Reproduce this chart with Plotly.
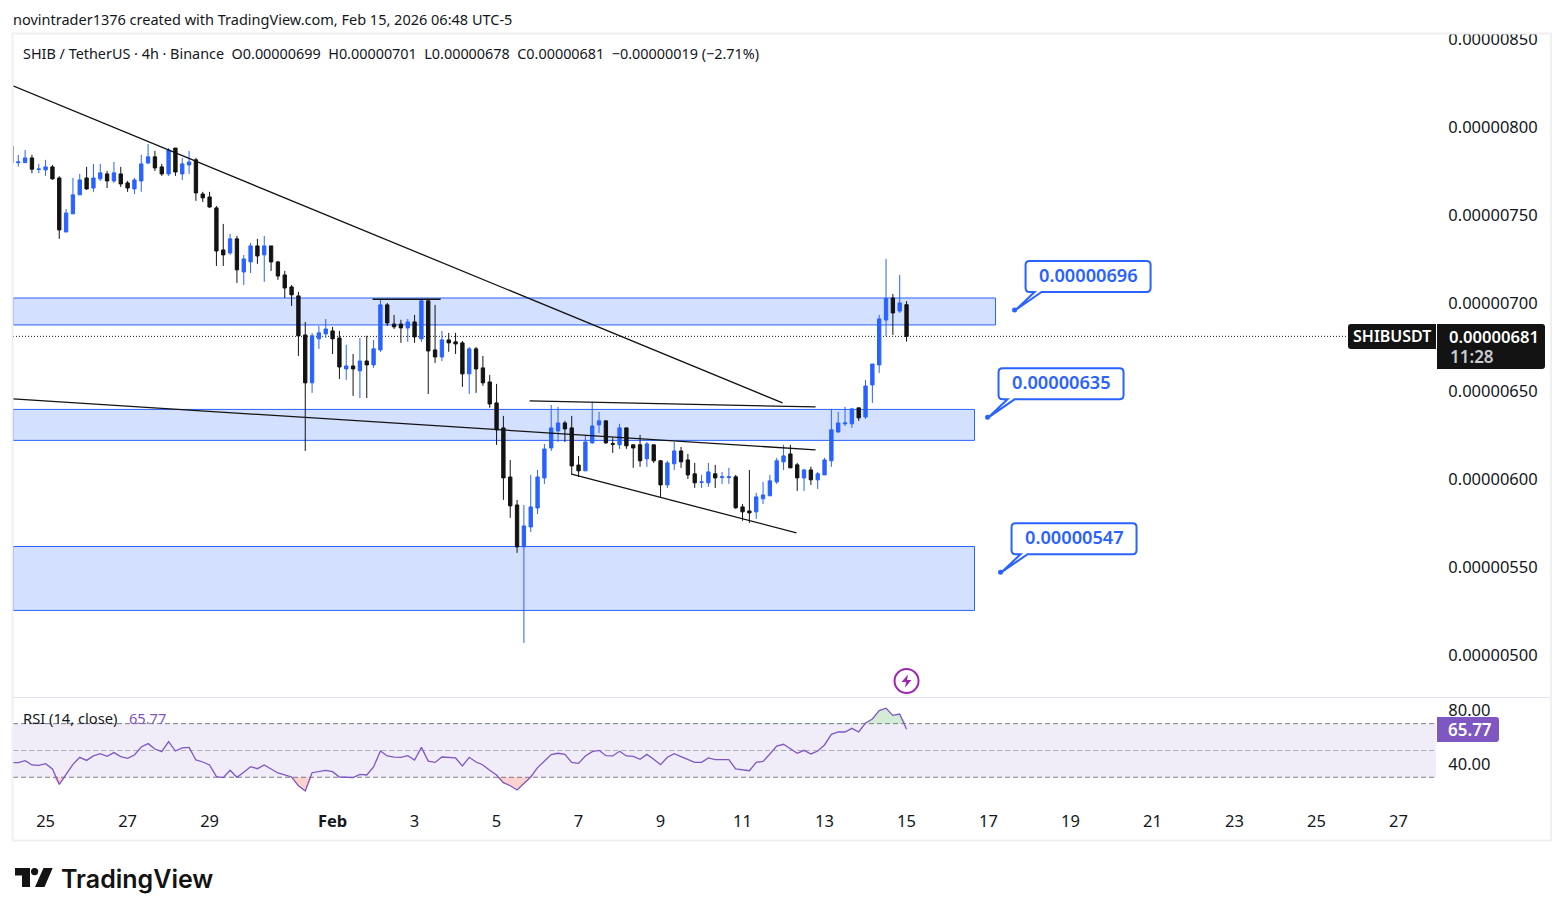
import pandas as pd
import numpy as np
import plotly.graph_objects as go

W, H = 1564, 916

# OHLC per 4h bar, in units of 1e-8 USDT
opens = [789.2,779.7,779.7,782.4,775.8,775.6,777.3,771,740.3,750.6,761.4,771,765.3,770.5,773.3,769.3,773.3,768.2,764.8,769.3,
 779.5,783,777.3,773.3,788,773.3,778.4,781.3,761.9,760.2,754,730.1,728.4,736.4,717.6,723.3,732.4,727.3,732.4,723.3,
 715.9,709.1,704,681.8,654.6,679.6,682.4,684.1,680.1,662.5,664.2,661.4,667,664.8,673.3,698.9,688,688,685.8,689.2,
 679.6,701.2,673.3,669.3,679,677.9,677.3,659.7,673.9,663.1,655.1,643.2,629,601.1,585.2,561.4,572.7,583.5,600.6,617.6,
 627.3,631.8,629,607.9,604.6,620.5,630.7,633,620.1,619.4,629,619.4,619.4,611.4,619.4,610.3,596.6,608.6,615.9,610.8,
 602.9,598,597.8,602.9,600.8,600.8,601.2,584.1,581.8,581.3,588.7,590.4,598.3,609.7,614.2,608,600.6,605.1,599.5,602.3,
 610.3,626.7,631.3,631.3,640.4,635.2,653.4,664.8,690.3,702.8,695.4,699]
highs = [789.2,784.1,786.9,784.1,779,781.3,778.4,772,753.4,771,773.3,777.3,779,779,775,780.1,777.3,769.3,771,784.1,
 790.3,786.4,779,788,788,782.4,786.4,782.4,763.1,763.1,755.1,744.9,739.2,738.1,727.3,734.1,736.4,738.1,732.4,723.9,
 718.2,710.2,706.3,689.2,683,686.9,690.9,686.4,684.1,676.2,671,680.1,681.3,679,702.3,700,693.2,690.4,690.9,693.2,
 702.3,701.2,698.9,684.1,683,683,678.4,675,675,669.9,659.1,654,635.8,610.8,588.1,585.2,602.3,605.1,619.9,642,
 640.9,633,635.8,613,625,643.8,638.1,633,623.3,631.3,629,619.4,625,621,619.4,610.8,610.3,621,618.2,614.2,
 609.1,602.3,609.1,608,604,606.3,602.3,585.8,605.1,592.1,598.3,602.3,612,619.4,619.4,609.1,605.7,606.9,604,612,
 639.8,638.1,641,640.4,640.4,656.2,665.3,693.2,725,705.1,715.9,701]
lows = [779.7,777.5,779.7,773.7,773.7,772.2,769.9,736.4,740.3,750.6,761.4,764.2,763.1,769.3,765.3,768.2,765.9,763.1,761.9,763.1,
 779,775,772.2,772.2,772.2,769.9,773.3,758,757.4,754,721,721,727.3,711.4,710.2,717,722.2,712,718.2,713.1,
 702.8,698.3,669.9,615.9,648.9,673.9,680.1,671,656.8,656.3,647.2,646,646,663.1,672.2,686.9,685.2,677.3,677.9,677.3,
 677.9,648.3,665.9,667,672.2,671,652.3,648.3,648.9,652.9,640.4,619.3,588.1,577.9,558,506.8,569.9,580.1,597.2,615.9,
 621,621,602.3,601.1,604.6,619.9,626.1,619.9,614.8,617.1,617.1,606.3,606.9,606.9,609.1,589.8,594.9,605.1,606.3,600,
 594.9,594.9,595.5,594.9,597.2,597.2,583,576.2,575,577.3,585.8,590.4,597.2,605.1,606.3,593.2,593.2,596.6,594.3,602.3,
 606.9,626.2,630.1,629,633,634.1,643.2,660.2,681.2,681.8,694.3,678]
closes = [779.7,780.1,782.4,776,776.1,777.3,770.5,741.5,751.1,761.4,769.9,764.8,771,773.9,769.3,773.9,767.6,765.3,769.9,779,
 783,776.7,773.3,786.9,774.4,779,780.1,762.5,759.7,754.5,729.5,727.3,736.4,718.8,725,732.4,726.7,732.4,723.3,715.3,
 708.5,704.6,681.3,654.6,681.3,683,685.2,679.6,663.6,664.2,662.5,667,664.8,673.9,698.9,688.6,686.4,685.8,689.2,680.7,
 701.2,672.7,669.3,679,677.3,676.7,659.7,673.9,662.5,654.6,642.6,627.9,600.6,584.7,561.4,573.3,584.1,601.1,617,629,
 631.8,628.4,607.4,604.6,621,630.1,633,620.5,619.7,629,618.8,617.6,610.3,619.9,610.3,596.6,609.1,615.9,609.7,602.3,
 597.8,598.3,604,600.6,601.2,601.2,583.6,581.3,580.7,589.8,590.9,598.9,610.3,613.1,606.3,600.6,605.1,599.5,602.9,610.8,
 627.9,631.8,631.8,639.8,634.7,652.8,665.3,690.9,702.6,694.3,700,681]
rsi_values = [40.9,40.9,42.4,39.2,38.9,40.1,36.2,24.7,32.2,39.6,44.9,42.6,45.9,47.6,45.6,48.4,45.4,44.1,46.6,52.6,
 55.1,51.1,49.1,56.6,49.6,51.9,52.3,42.9,41.4,39.2,30.5,29.7,35.2,30,33.7,37.9,36.4,39.2,36.2,33.2,
 31.7,30.2,23.7,19.8,33.4,34.2,35.2,34.2,30.2,30,29.7,32.2,31.7,37.7,49.6,45.9,45.1,44.9,46.1,42.9,
 52.3,42.1,41.1,45.1,44.9,44.4,38.4,44.9,41.4,39.2,35.2,31.7,26,23.7,20.5,25.2,30.2,37.2,42.1,46.9,
 47.9,47.1,41.1,40.4,45.9,49.1,50.1,46.1,45.9,49.4,45.9,45.6,43.4,47.1,43.4,39.4,44.9,47.6,45.4,43.1,
 41.1,41.1,44.4,43.1,43.1,43.1,36.2,35.4,34.9,41.1,41.9,47.4,53.3,54.6,51.1,47.9,50.1,47.4,49.6,54.1,
 62,63.8,63.8,66.5,63.8,70.5,73.5,79.7,81.5,76.2,77.2,65.77]
times = pd.date_range(end="2026-02-15 00:00", periods=len(closes), freq="4h")

price_ticks = [850, 800, 750, 700, 650, 600, 550, 500]
price_labels = ["0.00000850", "0.00000800", "0.00000750", "0.00000700", "0.00000650", "0.00000600", "0.00000550", "0.00000500"]
date_ticks = ["2026-01-25", "2026-01-27", "2026-01-29", "2026-02-01", "2026-02-03", "2026-02-05", "2026-02-07",
              "2026-02-09", "2026-02-11", "2026-02-13", "2026-02-15", "2026-02-17", "2026-02-19", "2026-02-21",
              "2026-02-23", "2026-02-25", "2026-02-27"]
date_labels = ["25", "27", "29", "<b>Feb</b>", "3", "5", "7", "9", "11", "13", "15", "17", "19", "21", "23", "25", "27"]

# Support zones: bottom, top, right end
zone_low = [687.5, 621.9, 525.3]
zone_high = [702.8, 639.5, 561.6]
zone_end = ["2026-02-17 04:06", "2026-02-16 15:48", "2026-02-16 15:48"]

# Price notes: level and the time they are pinned to
note_values = [696, 635, 547]
note_texts = ["0.00000696", "0.00000635", "0.00000547"]
note_times = ["2026-02-17 15:15", "2026-02-16 23:25", "2026-02-17 07:02"]

x_start, x_end = "2026-01-24 04:55", "2026-02-27 21:57"

# Trend lines as (time, price) end points
trend_lines = [
    ([x_start, "2026-02-11 23:25"], [823.3, 643.2]),
    ([x_start, "2026-02-12 18:44"], [645.5, 616.5]),
    (["2026-02-05 19:19", "2026-02-12 18:44"], [644.3, 640.9]),
    (["2026-02-06 19:55", "2026-02-12 07:35"], [602.8, 569.3]),
    (["2026-02-01 23:25", "2026-02-03 15:15"], [702.1, 702.1]),
]

last_price = 681
last_rsi = 65.77

BLUE = "#2962ff"
BLACK = "#131313"
PURPLE = "#7e57c2"
TEXT = "#131722"
FONT = "Noto Sans"


def px(x):
    return x / W


def py(y):
    return 1 - y / H


def round_box(x0, y0, x1, y1, left=0, right=0):
    """Closed path in paper coordinates for a box with rounded corners."""
    pts = (f"M{px(x0 + left)},{py(y0)} L{px(x1 - right)},{py(y0)} "
           f"Q{px(x1)},{py(y0)} {px(x1)},{py(y0 + right)} L{px(x1)},{py(y1 - right)} "
           f"Q{px(x1)},{py(y1)} {px(x1 - right)},{py(y1)} L{px(x0 + left)},{py(y1)} "
           f"Q{px(x0)},{py(y1)} {px(x0)},{py(y1 - left)} L{px(x0)},{py(y0 + left)} "
           f"Q{px(x0)},{py(y0)} {px(x0 + left)},{py(y0)} Z")
    return pts


def label(x, y, text, size=14, color=TEXT, anchor="left", weight=None, family=FONT):
    return dict(xref="paper", yref="paper", x=px(x), y=py(y), text=text, showarrow=False,
                xanchor=anchor, yanchor="middle", align=anchor, borderpad=0, borderwidth=0,
                font=dict(size=size, color=color, family=family, weight=weight))


fig = go.Figure()

fig.add_trace(go.Candlestick(
    x=times, open=opens, high=highs, low=lows, close=closes,
    increasing=dict(line=dict(color=BLUE, width=1), fillcolor=BLUE),
    decreasing=dict(line=dict(color=BLACK, width=1), fillcolor=BLACK),
    whiskerwidth=0, hoverinfo="skip", showlegend=False, xaxis="x", yaxis="y"))

for line_x, line_y in trend_lines:
    fig.add_trace(go.Scatter(x=line_x, y=line_y, mode="lines", line=dict(color=BLACK, width=1.3),
                             hoverinfo="skip", showlegend=False, xaxis="x", yaxis="y"))

fig.add_trace(go.Scatter(x=note_times, y=note_values, mode="markers", cliponaxis=False,
                         marker=dict(color=BLUE, size=5), hoverinfo="skip", showlegend=False,
                         xaxis="x", yaxis="y"))

# RSI: overbought and oversold tints sit between the guide level and the line
rsi = np.array(rsi_values)
for level, clipped, tint in [(70, np.maximum(rsi, 70), "rgba(76,175,80,0.24)"),
                             (30, np.minimum(rsi, 30), "rgba(244,67,54,0.24)")]:
    fig.add_trace(go.Scatter(x=times, y=[level] * len(times), mode="lines", line=dict(width=0),
                             hoverinfo="skip", showlegend=False, xaxis="x", yaxis="y2"))
    fig.add_trace(go.Scatter(x=times, y=clipped, mode="lines", line=dict(width=0), fill="tonexty",
                             fillcolor=tint, hoverinfo="skip", showlegend=False, xaxis="x", yaxis="y2"))
fig.add_trace(go.Scatter(x=times, y=rsi, mode="lines", line=dict(color=PURPLE, width=1.3),
                         hoverinfo="skip", showlegend=False, xaxis="x", yaxis="y2"))

shapes = []
for low, high, end in zip(zone_low, zone_high, zone_end):
    shapes.append(dict(type="rect", xref="x", yref="y", x0=x_start, x1=end, y0=low, y1=high,
                       fillcolor="rgba(41,98,255,0.2)", line=dict(color=BLUE, width=1), layer="below"))

shapes.append(dict(type="line", xref="x", yref="y", x0=x_start, x1=x_end, y0=last_price, y1=last_price,
                   line=dict(color=BLACK, width=1, dash="1px,2px"), layer="below"))

# RSI band and its guide levels
shapes.append(dict(type="rect", xref="x", yref="y2", x0=x_start, x1=x_end, y0=30, y1=70,
                   fillcolor="rgba(126,87,194,0.11)", line=dict(width=0), layer="below"))
for level, colour in [(70, "#787b86"), (50, "rgba(120,123,134,0.55)"), (30, "#787b86")]:
    shapes.append(dict(type="line", xref="x", yref="y2", x0=x_start, x1=x_end, y0=level, y1=level,
                       line=dict(color=colour, width=1, dash="5px,3px"), layer="below"))

# Speech-bubble outline for each price note, pinned to its level
bubble = ("M15,49 L132,49 Q136,49 136,45 L136,22 Q136,18 132,18 L27,18 L1,0 L20,18 "
          "L15,18 Q11,18 11,22 L11,45 Q11,49 15,49 Z")
for when, value in zip(note_times, note_values):
    shapes.append(dict(type="path", xsizemode="pixel", ysizemode="pixel", xref="x", yref="y",
                       xanchor=when, yanchor=value, path=bubble, fillcolor="white",
                       line=dict(color=BLUE, width=2), layer="above"))

# Lightning badge above the last bar
badge_path = ("M-12,0 C-12,6.63 -6.63,12 0,12 C6.63,12 12,6.63 12,0 "
              "C12,-6.63 6.63,-12 0,-12 C-6.63,-12 -12,-6.63 -12,0 Z")
bolt_path = "M1.5,6.5 L-5,-1 L-0.5,-1 L-1.5,-6.5 L5,1 L0.5,1 Z"
shapes.append(dict(type="path", xsizemode="pixel", ysizemode="pixel", xref="x", yref="y",
                   xanchor="2026-02-15 00:00", yanchor=485.2, path=badge_path, fillcolor="white",
                   line=dict(color="#9c27b0", width=2), layer="above"))
shapes.append(dict(type="path", xsizemode="pixel", ysizemode="pixel", xref="x", yref="y",
                   xanchor="2026-02-15 00:00", yanchor=485.2, path=bolt_path, fillcolor="#9c27b0",
                   line=dict(width=0), layer="above"))

# Pane separator
shapes.append(dict(type="line", xref="paper", yref="paper", x0=px(13), x1=px(1551), y0=py(697.5), y1=py(697.5),
                   line=dict(color="#e0e3eb", width=1), layer="above"))
# The top tick label runs under the chart frame
shapes.append(dict(type="rect", xref="paper", yref="paper", x0=px(1440), x1=px(1551), y0=py(34), y1=py(20),
                   fillcolor="white", line=dict(width=0), layer="above"))
# Chart frame
shapes.append(dict(type="rect", xref="paper", yref="paper", x0=px(12.5), x1=px(1551), y0=py(840.5), y1=py(33.5),
                   line=dict(color="#f0f0f0", width=2), layer="above"))

# Last price tags
shapes.append(dict(type="path", xref="paper", yref="paper", path=round_box(1348, 324, 1436, 349, left=3),
                   fillcolor=BLACK, line=dict(width=0), layer="above"))
shapes.append(dict(type="path", xref="paper", yref="paper", path=round_box(1437, 324, 1545, 369, right=3),
                   fillcolor=BLACK, line=dict(width=0), layer="above"))
shapes.append(dict(type="path", xref="paper", yref="paper", path=round_box(1437, 717, 1499, 742, right=3),
                   fillcolor=PURPLE, line=dict(width=0), layer="above"))

# TradingView mark
shapes.append(dict(type="path", xref="paper", yref="paper",
                   path=f"M{px(15)},{py(868)} L{px(30)},{py(868)} L{px(30)},{py(887)} L{px(22)},{py(887)} "
                        f"L{px(22)},{py(875.5)} L{px(15)},{py(875.5)} Z",
                   fillcolor=BLACK, line=dict(width=0)))
shapes.append(dict(type="circle", xref="paper", yref="paper", x0=px(31), x1=px(38.2), y0=py(875.2), y1=py(868),
                   fillcolor=BLACK, line=dict(width=0)))
shapes.append(dict(type="path", xref="paper", yref="paper",
                   path=f"M{px(43.5)},{py(868)} L{px(52.7)},{py(868)} L{px(44.5)},{py(887)} L{px(35)},{py(887)} Z",
                   fillcolor=BLACK, line=dict(width=0)))

annotations = [
    label(13, 19, "novintrader1376 created with TradingView.com, Feb 15, 2026 06:48 UTC-5", size=14.5),
    label(23, 54, "SHIB / TetherUS · 4h · Binance\u00a0\u00a0O0.00000699\u00a0\u00a0H0.00000701\u00a0\u00a0L0.00000678\u00a0\u00a0"
                  "C0.00000681\u00a0\u00a0−0.00000019 (−2.71%)", size=14.4),
    label(23, 718, f"RSI (14, close)\u00a0\u00a0\u00a0<span style='color:{PURPLE}'>{last_rsi}</span>", size=14.7),
    label(1392, 336.5, "SHIBUSDT", size=16, color="white", anchor="center", weight=600),
    label(1449, 337, "0.00000681", size=16.6, color="white", weight=600),
    label(1450, 356.5, "11:28", size=17, color="#c9cbd1", weight=600),
    label(1448, 729, f"{last_rsi}", size=17, color="white", weight=600),
    label(61, 879, "TradingView", size=25, color=BLACK, weight=600, family="Inter"),
]
for when, value, text in zip(note_times, note_values, note_texts):
    annotations.append(dict(xref="x", yref="y", x=when, y=value, text=text, showarrow=False,
                            xanchor="center", yanchor="middle", xshift=73.5, yshift=35, borderpad=0, borderwidth=0,
                            font=dict(size=18.2, color=BLUE, family=FONT, weight=600)))

axis_font = dict(size=16.5, color=TEXT, family=FONT)
fig.update_layout(
    width=W, height=H, margin=dict(l=0, r=0, t=0, b=0), autosize=False,
    paper_bgcolor="white", plot_bgcolor="white", showlegend=False,
    font=dict(family=FONT, color=TEXT), boxgap=0.3, hovermode=False,
    shapes=shapes, annotations=annotations,
    xaxis=dict(domain=[px(13), px(1436)], range=[x_start, x_end], anchor="y2", type="date", automargin=False,
               rangeslider=dict(visible=False), showgrid=False, zeroline=False, showline=False,
               tickmode="array", tickvals=date_ticks, ticktext=date_labels, ticks="outside",
               ticklen=3, tickcolor="rgba(0,0,0,0)", tickfont=axis_font),
    yaxis=dict(domain=[py(697), py(34)], range=[476.1, 852.8], side="right", anchor="x", showgrid=False, automargin=False,
               zeroline=False, showline=False, tickmode="array", tickvals=price_ticks, ticktext=price_labels,
               ticks="outside", ticklen=8, tickcolor="rgba(0,0,0,0)", tickfont=axis_font),
    yaxis2=dict(domain=[py(803), py(697)], range=[10.8, 89.9], side="right", anchor="x", showgrid=False, automargin=False,
                zeroline=False, showline=False, tickmode="array", tickvals=[80, 40], ticktext=["80.00", "40.00"],
                ticks="outside", ticklen=8, tickcolor="rgba(0,0,0,0)", tickfont=axis_font),
)

fig.write_html("out.html")
